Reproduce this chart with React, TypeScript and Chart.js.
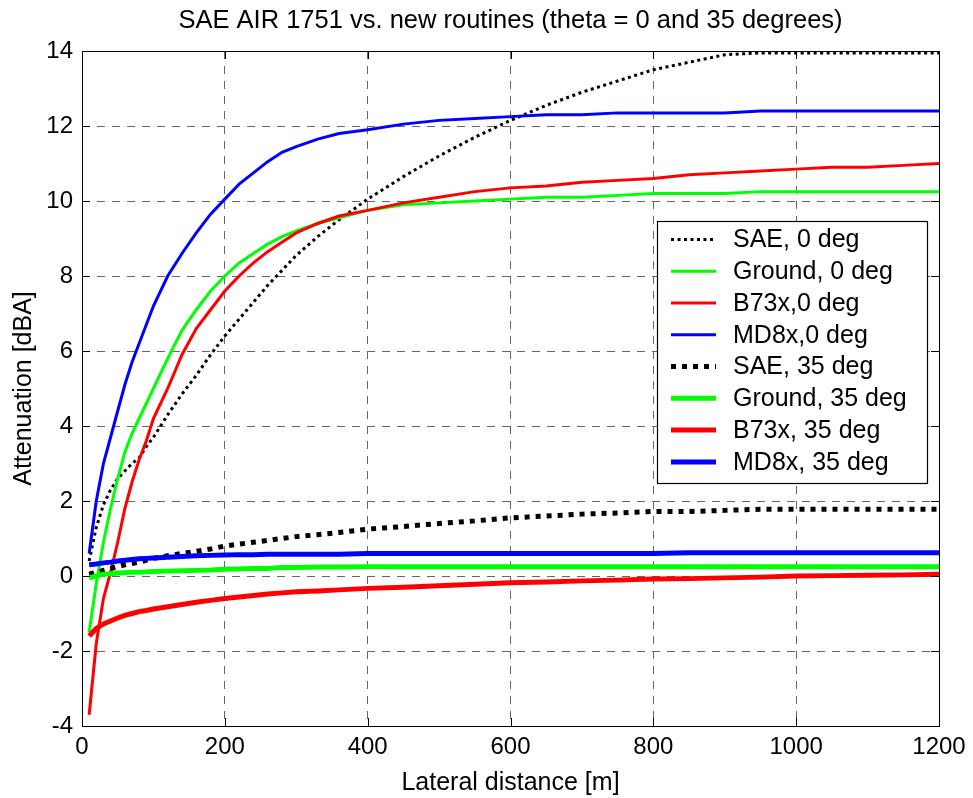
import React, { useEffect, useRef } from "react";
import { Chart, registerables } from "chart.js";

Chart.register(...registerables);

const TITLE = "SAE AIR 1751 vs. new routines (theta = 0 and 35 degrees)";
const X_TITLE = "Lateral distance [m]";
const Y_TITLE = "Attenuation [dBA]";

const X_TICKS = [0, 200, 400, 600, 800, 1000, 1200];
const Y_TICKS = [-4, -2, 0, 2, 4, 6, 8, 10, 12, 14];

const DIST = [10, 20, 30, 40, 50, 60, 70, 80, 90, 100, 120, 140, 160, 180, 200, 220, 240, 260, 280, 300, 330, 360, 400, 450, 500, 550, 600, 650, 700, 750, 800, 850, 900, 950, 1000, 1050, 1100, 1150, 1200];

const SAE_0 = [0.4, 1.3, 1.9, 2.3, 2.6, 2.8, 3.0, 3.15, 3.45, 3.7, 4.3, 4.85, 5.35, 5.9, 6.4, 6.85, 7.3, 7.75, 8.15, 8.55, 9.05, 9.5, 10.05, 10.65, 11.2, 11.7, 12.15, 12.55, 12.9, 13.2, 13.5, 13.7, 13.9, 13.95, 13.95, 13.95, 13.95, 13.95, 13.95];
const GROUND_0 = [-1.5, -0.2, 0.9, 1.8, 2.6, 3.3, 3.8, 4.2, 4.6, 5.0, 5.8, 6.55, 7.1, 7.6, 8.0, 8.35, 8.6, 8.85, 9.05, 9.2, 9.4, 9.55, 9.75, 9.9, 9.95, 10.0, 10.05, 10.1, 10.1, 10.15, 10.2, 10.2, 10.2, 10.25, 10.25, 10.25, 10.25, 10.25, 10.25];
const B73X_0 = [-3.7, -1.8, -0.6, 0.1, 0.9, 1.8, 2.5, 3.1, 3.6, 4.2, 5.0, 5.9, 6.6, 7.1, 7.6, 8.0, 8.35, 8.65, 8.9, 9.15, 9.4, 9.6, 9.75, 9.95, 10.1, 10.25, 10.35, 10.4, 10.5, 10.55, 10.6, 10.7, 10.75, 10.8, 10.85, 10.9, 10.9, 10.95, 11.0];
const MD8X_0 = [0.6, 2.0, 3.0, 3.7, 4.4, 5.1, 5.7, 6.2, 6.7, 7.2, 8.0, 8.6, 9.15, 9.65, 10.05, 10.45, 10.75, 11.05, 11.3, 11.45, 11.65, 11.8, 11.9, 12.05, 12.15, 12.2, 12.25, 12.3, 12.3, 12.35, 12.35, 12.35, 12.35, 12.4, 12.4, 12.4, 12.4, 12.4, 12.4];
const SAE_35 = [0.05, 0.1, 0.15, 0.2, 0.25, 0.3, 0.33, 0.37, 0.42, 0.47, 0.54, 0.6, 0.66, 0.72, 0.8, 0.85, 0.9, 0.95, 1.0, 1.05, 1.1, 1.16, 1.25, 1.32, 1.4, 1.47, 1.55, 1.6, 1.65, 1.68, 1.72, 1.72, 1.75, 1.78, 1.78, 1.78, 1.78, 1.78, 1.78];
const GROUND_35 = [-0.05, 0.0, 0.05, 0.06, 0.08, 0.09, 0.1, 0.1, 0.11, 0.12, 0.13, 0.14, 0.15, 0.16, 0.18, 0.19, 0.2, 0.2, 0.23, 0.23, 0.24, 0.24, 0.25, 0.25, 0.25, 0.25, 0.25, 0.25, 0.25, 0.25, 0.25, 0.25, 0.25, 0.25, 0.25, 0.25, 0.25, 0.25, 0.25];
const B73X_35 = [-1.6, -1.4, -1.28, -1.2, -1.12, -1.05, -1.0, -0.95, -0.92, -0.88, -0.82, -0.76, -0.7, -0.65, -0.6, -0.56, -0.52, -0.48, -0.45, -0.42, -0.4, -0.37, -0.33, -0.3, -0.26, -0.22, -0.18, -0.16, -0.13, -0.11, -0.08, -0.07, -0.05, -0.03, 0.0, 0.01, 0.02, 0.03, 0.05];
const MD8X_35 = [0.3, 0.32, 0.35, 0.37, 0.4, 0.42, 0.44, 0.46, 0.47, 0.48, 0.5, 0.52, 0.54, 0.55, 0.56, 0.57, 0.57, 0.58, 0.58, 0.58, 0.58, 0.58, 0.6, 0.6, 0.6, 0.6, 0.6, 0.6, 0.6, 0.6, 0.6, 0.62, 0.62, 0.62, 0.62, 0.62, 0.62, 0.62, 0.62];

const SERIES_LABELS = ["SAE, 0 deg", "Ground, 0 deg", "B73x,0 deg", "MD8x,0 deg", "SAE, 35 deg", "Ground, 35 deg", "B73x, 35 deg", "MD8x, 35 deg"];
const SERIES_VALUES = [SAE_0, GROUND_0, B73X_0, MD8X_0, SAE_35, GROUND_35, B73X_35, MD8X_35];
const SERIES_COLORS = ["#000000", "#00ff00", "#ff0000", "#0000ff", "#000000", "#00ff00", "#ff0000", "#0000ff"];
const SERIES_WIDTHS = [3, 3, 3, 3, 5, 5, 5, 5];
const SERIES_DASHES = [[3, 3.5], [], [], [], [5, 6], [], [], []];

const FONT = "'Liberation Sans', Arial, Helvetica, sans-serif";

const frameAndLegend = {
  id: "frameAndLegend",
  afterDatasetsDraw(chart: any) {
    const { ctx, chartArea, scales } = chart;
    const { left, right, top, bottom } = chartArea;
    const xs = scales.x;
    const ys = scales.y;
    ctx.save();
    ctx.strokeStyle = "#000";
    ctx.lineWidth = 1;
    ctx.setLineDash([]);
    ctx.strokeRect(Math.round(left) + 0.5, Math.round(top) + 0.5, Math.round(right - left), Math.round(bottom - top));
    const tl = 8;
    ctx.beginPath();
    X_TICKS.forEach((v) => {
      const px = Math.round(xs.getPixelForValue(v)) + 0.5;
      ctx.moveTo(px, bottom);
      ctx.lineTo(px, bottom - tl);
      ctx.moveTo(px, top);
      ctx.lineTo(px, top + tl);
    });
    Y_TICKS.forEach((v) => {
      const py = Math.round(ys.getPixelForValue(v)) + 0.5;
      ctx.moveTo(left, py);
      ctx.lineTo(left + tl, py);
      ctx.moveTo(right, py);
      ctx.lineTo(right - tl, py);
    });
    ctx.stroke();

    // legend
    const lx = 657.5, ly = 221.5, lw = 270, lh = 262;
    ctx.fillStyle = "#fff";
    ctx.fillRect(lx, ly, lw, lh);
    ctx.strokeStyle = "#000";
    ctx.lineWidth = 1.2;
    ctx.strokeRect(lx, ly, lw, lh);
    ctx.font = `25px ${FONT}`;
    ctx.textBaseline = "middle";
    ctx.textAlign = "left";
    chart.data.datasets.forEach((ds: any, i: number) => {
      const cy = 239.5 + i * 31.77;
      ctx.beginPath();
      ctx.strokeStyle = ds.borderColor;
      ctx.lineWidth = ds.borderWidth;
      ctx.setLineDash(ds.borderDash || []);
      ctx.moveTo(671, cy);
      ctx.lineTo(716, cy);
      ctx.stroke();
      ctx.setLineDash([]);
      ctx.fillStyle = "#000";
      ctx.fillText(ds.label, 733, cy + 1);
    });
    ctx.restore();
  },
};

export default function App() {
  const ref = useRef<HTMLCanvasElement | null>(null);
  useEffect(() => {
    if (!ref.current) return;
    const datasets = SERIES_LABELS.map((label, i) => ({
      label,
      data: DIST.map((d, j) => ({ x: d, y: SERIES_VALUES[i][j] })),
      borderColor: SERIES_COLORS[i],
      backgroundColor: SERIES_COLORS[i],
      borderWidth: SERIES_WIDTHS[i],
      borderDash: SERIES_DASHES[i],
      pointRadius: 0,
      tension: 0,
      fill: false,
      order: SERIES_LABELS.length - i,
    }));
    const chart = new Chart(ref.current, {
      type: "line",
      data: { datasets },
      options: {
        animation: false,
        responsive: false,
        maintainAspectRatio: false,
        layout: { padding: { left: 0, right: 34, top: 0, bottom: 0 } },
        plugins: {
          legend: { display: false },
          tooltip: { enabled: false },
          title: {
            display: true,
            text: TITLE,
            color: "#000",
            fullSize: false,
            font: { family: FONT, size: 25.5, weight: "normal" },
            padding: { top: 6, bottom: 14.4 },
          },
        },
        scales: {
          x: {
            type: "linear",
            min: 0,
            max: 1200,
            afterFit: (s: any) => {
              s.height = 72;
            },
            afterBuildTicks: (s: any) => {
              s.ticks = X_TICKS.map((v) => ({ value: v }));
            },
            ticks: {
              color: "#000",
              font: { family: FONT, size: 24 },
              padding: 7,
              maxRotation: 0,
              autoSkip: false,
              callback: (v: any) => String(v),
            },
            grid: { color: "#666", lineWidth: 1, drawTicks: false },
            border: { display: false, dash: [8, 7] },
            title: {
              display: true,
              text: X_TITLE,
              color: "#000",
              font: { family: FONT, size: 25 },
              padding: { top: 0, bottom: 0 },
            },
          },
          y: {
            type: "linear",
            min: -4,
            max: 14,
            afterFit: (s: any) => {
              s.width = 82;
            },
            afterBuildTicks: (s: any) => {
              s.ticks = Y_TICKS.map((v) => ({ value: v }));
            },
            ticks: {
              color: "#000",
              font: { family: FONT, size: 24 },
              padding: 9,
              autoSkip: false,
              callback: (v: any) => String(v),
            },
            grid: { color: "#666", lineWidth: 1, drawTicks: false },
            border: { display: false, dash: [8, 7] },
            title: {
              display: true,
              text: Y_TITLE,
              color: "#000",
              font: { family: FONT, size: 25 },
              padding: { top: 9, bottom: 9 },
            },
          },
        },
      },
      plugins: [frameAndLegend],
    } as any);
    return () => chart.destroy();
  }, []);
  return (
    <div style={{ position: "fixed", left: 0, top: 0, width: 973, height: 798, background: "#fff" }}>
      <canvas ref={ref} width={973} height={798} style={{ display: "block" }} />
    </div>
  );
}
